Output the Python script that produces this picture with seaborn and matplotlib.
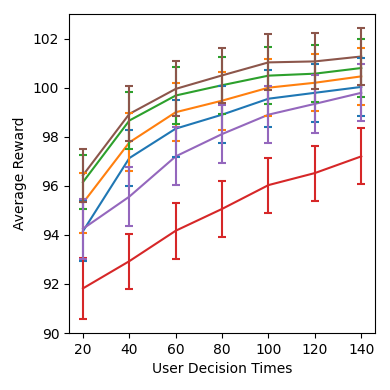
import pandas as pd
import matplotlib
matplotlib.use("Agg")
import matplotlib.pyplot as plt
import seaborn as sns
import numpy as np

# decision times on the x axis
times = [20, 40, 60, 80, 100, 120, 140]

# mean reward per method
blue = [94.15, 97.13, 98.33, 98.90, 99.55, 99.79, 100.03]
orange = [95.30, 97.77, 99.00, 99.47, 100.00, 100.20, 100.46]
green = [96.15, 98.66, 99.68, 100.10, 100.49, 100.57, 100.80]
red = [91.82, 92.93, 94.17, 95.06, 96.03, 96.52, 97.20]
purple = [94.25, 95.56, 97.20, 98.11, 98.90, 99.34, 99.79]
brown = [96.43, 98.93, 99.95, 100.50, 101.03, 101.07, 101.27]

# half width of the error bars
blue_err = [1.23, 1.15, 1.15, 1.15, 1.17, 1.17, 1.17]
orange_err = [1.21, 1.18, 1.18, 1.18, 1.16, 1.16, 1.15]
green_err = [1.10, 1.15, 1.16, 1.16, 1.17, 1.17, 1.17]
red_err = [1.23, 1.12, 1.14, 1.13, 1.12, 1.12, 1.14]
purple_err = [1.23, 1.19, 1.18, 1.18, 1.17, 1.17, 1.16]
brown_err = [1.08, 1.12, 1.12, 1.12, 1.14, 1.14, 1.15]

series = {
    "blue": (blue, blue_err),
    "orange": (orange, orange_err),
    "green": (green, green_err),
    "red": (red, red_err),
    "purple": (purple, purple_err),
    "brown": (brown, brown_err),
}
colors = {k: "tab:" + k for k in series}

rows = []
for name, (vals, errs) in series.items():
    for t, v, e in zip(times, vals, errs):
        rows.append({"time": t, "reward": v, "err": e, "method": name})
df = pd.DataFrame(rows)

fig, ax = plt.subplots(figsize=(3.9, 3.9), dpi=100)
fig.subplots_adjust(left=0.177, right=0.962, top=0.964, bottom=0.146)

sns.lineplot(data=df, x="time", y="reward", hue="method", palette=colors,
             hue_order=list(series), errorbar=None, legend=False, linewidth=1.5, ax=ax)

for name in series:
    sub = df[df["method"] == name]
    ax.errorbar(sub["time"], sub["reward"], yerr=sub["err"], fmt="none",
                ecolor=colors[name], elinewidth=1.5, capsize=3, capthick=1.5)

ax.set_ylim(90, 103)
ax.set_xticks(times)
ax.set_yticks([90, 92, 94, 96, 98, 100, 102])
ax.set_xlabel("User Decision Times")
ax.set_ylabel("Average Reward")

plt.savefig("out.png", dpi=100)
plt.close()
